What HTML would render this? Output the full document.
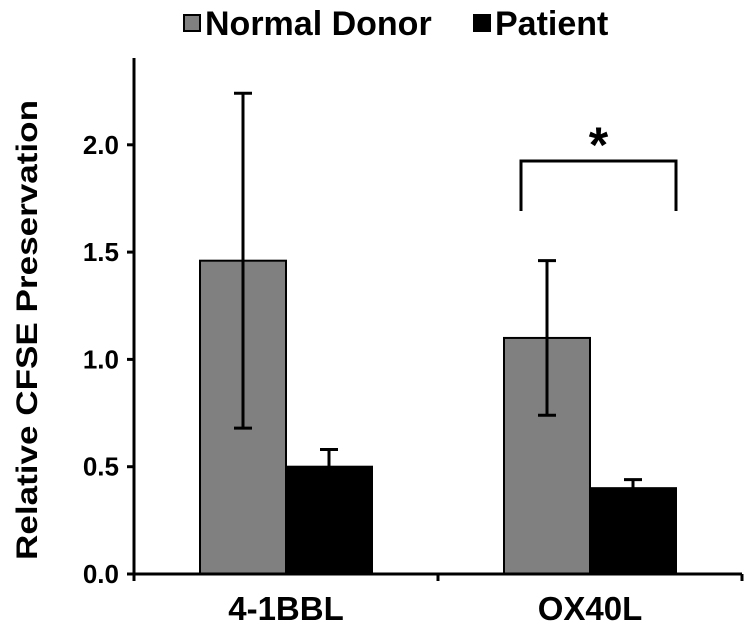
<!DOCTYPE html>
<html><head><meta charset="utf-8"><style>
body{margin:0;background:#fff;width:750px;height:634px;overflow:hidden}
svg text{font-family:"Liberation Sans",Arial,sans-serif;font-weight:bold;fill:#000}
</style></head><body>
<svg id="chart" width="750" height="634" viewBox="0 0 750 634"></svg>
<script>
const categories = ["4-1BBL", "OX40L"];
const seriesNames = ["Normal Donor", "Patient"];
const normalValues = [1.46, 1.10];
const normalErrors = [0.78, 0.36];
const patientValues = [0.50, 0.40];
const patientErrors = [0.08, 0.04];
const yTicks = [0.0, 0.5, 1.0, 1.5, 2.0];
const yTickLabels = ["0.0", "0.5", "1.0", "1.5", "2.0"];

const NS = "http://www.w3.org/2000/svg";
const svg = document.getElementById("chart");
const x0 = 134, x1 = 742, yBase = 574, pxPerUnit = 214.6, yTop = 58;
function y(v){ return yBase - v * pxPerUnit; }
const groupW = (x1 - x0) / categories.length;
const barW = 86;
function groupCenter(i){ return x0 + groupW * (i + 0.5); }
function mk(tag, attrs){ const e = document.createElementNS(NS, tag); for (const k in attrs) e.setAttribute(k, attrs[k]); svg.appendChild(e); return e; }

const series = [{v: normalValues, e: normalErrors, fill: "#808080", name: "normal"}, {v: patientValues, e: patientErrors, fill: "#000", name: "patient"}];
categories.forEach((c, i) => {
  series.forEach((s, j) => {
    const bx = groupCenter(i) + (j - 1) * barW;
    const r = mk("rect", {x: bx, y: y(s.v[i]), width: barW, height: yBase - y(s.v[i]), fill: s.fill, stroke: "#000", "stroke-width": 2});
    
    
    const cx = bx + barW / 2;
    const hi = s.v[i] + s.e[i], lo = j === 0 ? s.v[i] - s.e[i] : s.v[i];
    const el = mk("path", {d: `M${cx},${y(lo)}V${y(hi)}M${cx-9},${y(hi)}H${cx+9}` + (j === 0 ? `M${cx-9},${y(lo)}H${cx+9}` : ""), stroke: "#000", "stroke-width": 3, fill: "none"});
    
    
  });
  const t = mk("text", {x: groupCenter(i), y: 620, "font-size": 33, "text-anchor": "middle"});
  t.textContent = c;
  
  
});

const ax = mk("path", {d: `M${x0},${yTop}V${yBase}M${x0-6},${yBase}H${x1}M${x0},${yBase}v7M${x0+groupW},${yBase}v7M${x1},${yBase}v7`, stroke: "#000", "stroke-width": 3, fill: "none"});


yTicks.forEach((v, k) => {
  const tk = mk("line", {x1: x0 - 7, x2: x0, y1: y(v), y2: y(v), stroke: "#000", "stroke-width": 3});
  
  
  const t = mk("text", {x: x0 - 15, y: y(v) + 9, "font-size": 26, "text-anchor": "end"});
  t.textContent = yTickLabels[k];
  
  
});
const yt = mk("text", {x: 0, y: 0, "font-size": 30, "text-anchor": "middle", "textLength": 460, "lengthAdjust": "spacingAndGlyphs", transform: "translate(37,330) rotate(-90)"});
yt.textContent = "Relative CFSE Preservation";



const bx1 = groupCenter(1) - barW + 17, bx2 = groupCenter(1) + barW;
const br = mk("path", {d: `M${bx1},211V161H${bx2}V211`, stroke: "#000", "stroke-width": 3, fill: "none"});


const st = mk("text", {x: (bx1 + bx2) / 2, y: 162, "font-size": 50, "text-anchor": "middle"});
st.textContent = "*";



const lg = [{x: 183, fill: "#808080", label: seriesNames[0]}, {x: 473, fill: "#000", label: seriesNames[1]}];
lg.forEach(l => {
  const sw = mk("rect", {x: l.x + 1, y: 15, width: 16, height: 16, fill: l.fill, stroke: "#000", "stroke-width": 2});
  
  
  const t = mk("text", {x: l.x + 22, y: 35, "font-size": 34});
  t.textContent = l.label;
  
  
});
</script>
</body></html>
